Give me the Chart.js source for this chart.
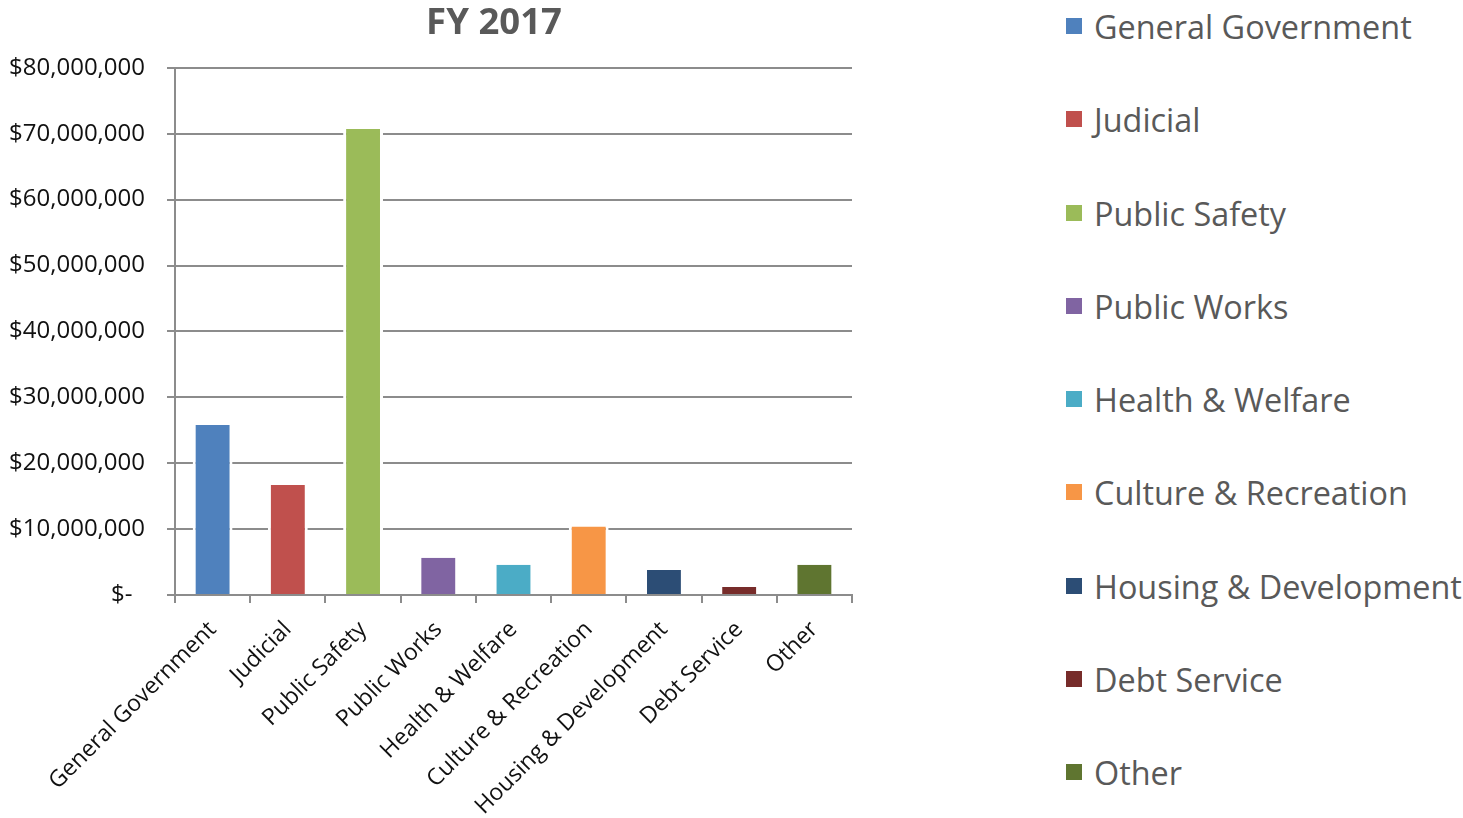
<!DOCTYPE html>
<html>
<head>
<meta charset="utf-8">
<script src="https://cdn.jsdelivr.net/npm/chart.js@4.4.1/dist/chart.umd.min.js"></script>
<style>
  html, body { margin: 0; padding: 0; background: #fff; }
  body { width: 1463px; height: 818px; position: relative; overflow: hidden; font-family: 'Open Sans', sans-serif; }
  #chart-box { position: absolute; left: 0; top: 0; width: 988px; height: 818px; }
  #legend { position: absolute; left: 1066px; top: -20.6px; margin: 0; padding: 0; list-style: none; }
  #legend li { height: 93.25px; display: flex; align-items: center; font-size: 32.4px; color: #595959; white-space: nowrap; }
  #legend .swatch { width: 16px; height: 16px; margin-right: 12px; flex: none; }
</style>
</head>
<body>
<div id="chart-box"><canvas id="fy-chart"></canvas></div>
<ul id="legend"></ul>
<script>
const categories = ['General Government', 'Judicial', 'Public Safety', 'Public Works', 'Health & Welfare',
  'Culture & Recreation', 'Housing & Development', 'Debt Service', 'Other'];
const spending = [25800000, 16700000, 70700000, 5650000, 4600000, 10400000, 3800000, 1200000, 4600000];
const barColors = ['#4F81BD', '#C0504D', '#9BBB59', '#8064A2', '#4BACC6', '#F79646', '#2C4D75', '#772C2A', '#5F7530'];
const yTickLabels = ['$-  ', '$10,000,000', '$20,000,000', '$30,000,000', '$40,000,000',
  '$50,000,000', '$60,000,000', '$70,000,000', '$80,000,000'];

const gridColor = '#8c8c8c';

function buildLegend() {
  const ul = document.getElementById('legend');
  categories.forEach((name, i) => {
    const li = document.createElement('li');
    const sw = document.createElement('span');
    sw.className = 'swatch';
    sw.style.background = barColors[i];
    li.appendChild(sw);
    li.appendChild(document.createTextNode(name));
    ul.appendChild(li);
  });
}

function initChart() {
  Chart.defaults.font.family = "'Open Sans', sans-serif";

  new Chart(document.getElementById('fy-chart'), {
    type: 'bar',
    data: {
      labels: categories,
      datasets: [{
        label: 'FY 2017',
        data: spending,
        backgroundColor: barColors,
        borderColor: '#ffffff',
        borderWidth: { left: 3, right: 3, top: 0, bottom: 0 },
        barPercentage: 0.53,
        categoryPercentage: 1
      }]
    },
    options: {
      responsive: true,
      maintainAspectRatio: false,
      animation: false,
      plugins: {
        legend: { display: false },
        tooltip: { enabled: false },
        title: {
          display: true,
          text: 'FY 2017',
          color: '#595959',
          font: { size: 36.5, weight: 'bold' },
          padding: { top: 2, bottom: 22 }
        }
      },
      scales: {
        x: {
          offset: true,
          grid: { display: true, drawOnChartArea: false, tickLength: 8, color: gridColor, lineWidth: 2, offset: true },
          border: { display: true, color: gridColor, width: 2 },
          ticks: { minRotation: 45, maxRotation: 45, autoSkip: false, color: '#111', font: { size: 23 }, padding: 13 },
          afterFit: s => { s.height = 223; }
        },
        y: {
          min: 0,
          max: 80000000,
          ticks: {
            stepSize: 10000000,
            color: '#111',
            font: { size: 24 },
            padding: 22,
            callback: (v, i) => yTickLabels[i]
          },
          grid: { color: gridColor, lineWidth: 2, tickLength: 8 },
          border: { display: true, color: gridColor, width: 2 },
          afterFit: s => { s.width = 175; }
        },
        // spacer on the right so the title is centred like the original
        yRight: {
          position: 'right',
          display: true,
          grid: { display: false },
          border: { display: false },
          ticks: { display: false },
          afterFit: s => { s.width = 136; }
        }
      }
    }
  });
}

document.addEventListener('DOMContentLoaded', () => {
  buildLegend();
  initChart();
});
</script>
</body>
</html>
